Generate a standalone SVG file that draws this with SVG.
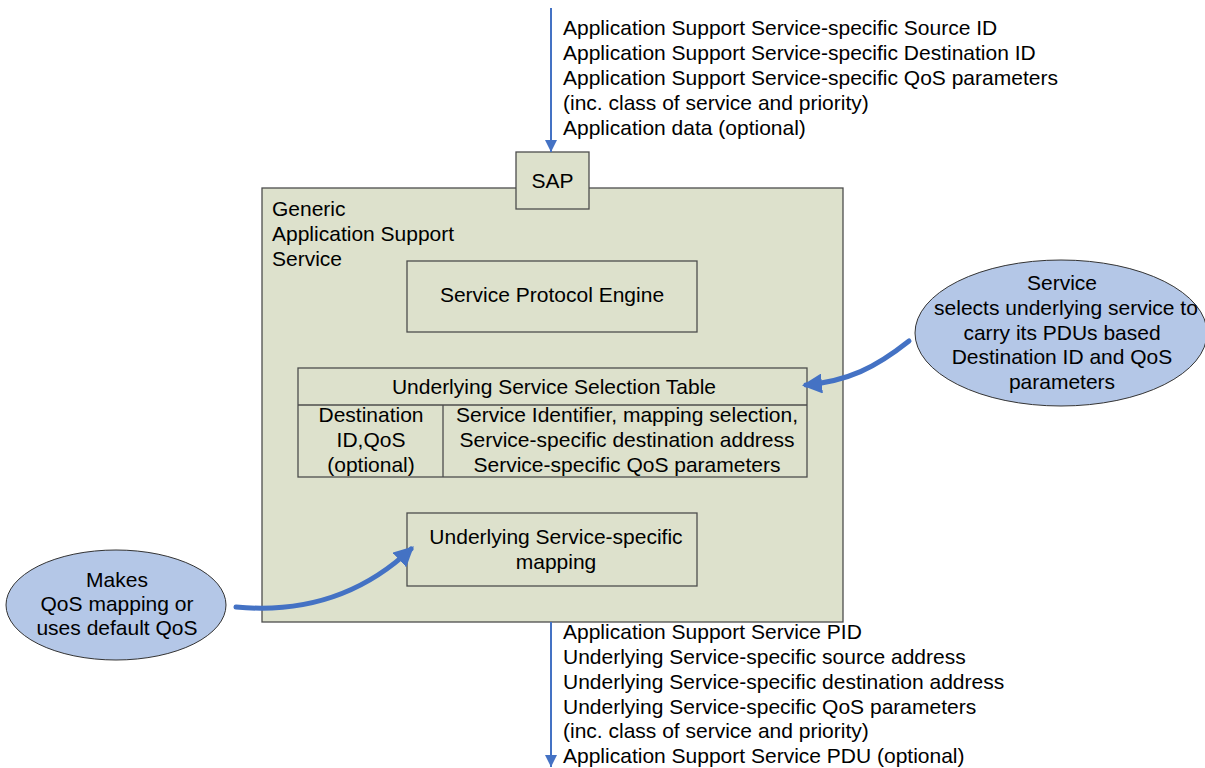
<svg xmlns="http://www.w3.org/2000/svg" width="1205" height="768" viewBox="0 0 1205 768">
<style>
text{font-family:"Liberation Sans",Arial,sans-serif;font-size:21px;fill:#000}
.c{text-anchor:middle}
.box{fill:#dde1cc;stroke:#4d4d4d;stroke-width:1.3}
.ell{fill:#b4c7e7;stroke:#333;stroke-width:1}
.thin{stroke:#4472c4;stroke-width:2;fill:none}
.thick{stroke:#4472c4;stroke-width:5;fill:none;stroke-linecap:round}
</style>
<defs>
<marker id="ah" viewBox="0 0 10 10" refX="10" refY="5" markerWidth="6" markerHeight="6" orient="auto" markerUnits="strokeWidth"><path d="M0,0 L10,5 L0,10 z" fill="#4472c4"/></marker>
<marker id="ah2" viewBox="0 0 10 10" refX="8" refY="5" markerWidth="4" markerHeight="4" orient="auto" markerUnits="strokeWidth"><path d="M0,0 L10,5 L0,10 z" fill="#4472c4"/></marker>
</defs>
<g id="main">
<rect class="box" x="262" y="188" width="581" height="434"/>
<text x="272" y="216">Generic</text>
<text x="272" y="241">Application Support</text>
<text x="272" y="266">Service</text>
</g>
<g id="sap">
<rect class="box" x="516" y="152" width="73" height="57"/>
<text class="c" x="552.500" y="188">SAP</text>
</g>
<g id="engine">
<rect class="box" x="407" y="261" width="290" height="71"/>
<text class="c" x="552" y="302">Service Protocol Engine</text>
</g>
<g id="table">
<rect class="box" x="298" y="368" width="509" height="109"/>
<line x1="298" y1="405" x2="807" y2="405" stroke="#4d4d4d" stroke-width="1.3"/>
<line x1="443" y1="405" x2="443" y2="477" stroke="#4d4d4d" stroke-width="1.3"/>
<text class="c" x="554" y="394">Underlying Service Selection Table</text>
<text class="c" x="371" y="422">Destination</text>
<text class="c" x="371" y="447">ID,QoS</text>
<text class="c" x="371" y="472">(optional)</text>
<text class="c" x="627" y="422">Service Identifier, mapping selection,</text>
<text class="c" x="627" y="447">Service-specific destination address</text>
<text class="c" x="627" y="472">Service-specific QoS parameters</text>
</g>
<g id="mapping">
<rect class="box" x="407" y="513" width="290" height="73"/>
<text class="c" x="556" y="544">Underlying Service-specific</text>
<text class="c" x="556" y="569">mapping</text>
</g>
<g id="note-left">
<ellipse class="ell" cx="116" cy="605" rx="110" ry="55"/>
<text class="c" x="117" y="587">Makes</text>
<text class="c" x="117" y="611">QoS mapping or</text>
<text class="c" x="117" y="635">uses default QoS</text>
</g>
<g id="note-right">
<ellipse class="ell" cx="1061" cy="333" rx="146" ry="73"/>
<text class="c" x="1062" y="290">Service</text>
<text class="c" x="1066" y="315">selects underlying service to</text>
<text class="c" x="1062" y="340">carry its PDUs based</text>
<text class="c" x="1062" y="364">Destination ID and QoS</text>
<text class="c" x="1062" y="389">parameters</text>
</g>
<g id="labels">
<text x="563" y="35">Application Support Service-specific Source ID</text>
<text x="563" y="60">Application Support Service-specific Destination ID</text>
<text x="563" y="85">Application Support Service-specific QoS parameters</text>
<text x="563" y="110">(inc. class of service and priority)</text>
<text x="563" y="135">Application data (optional)</text>
<text x="563" y="639">Application Support Service PID</text>
<text x="563" y="664">Underlying Service-specific source address</text>
<text x="563" y="689">Underlying Service-specific destination address</text>
<text x="563" y="714">Underlying Service-specific QoS parameters</text>
<text x="563" y="738">(inc. class of service and priority)</text>
<text x="563" y="763">Application Support Service PDU (optional)</text>
</g>
<g id="connectors">
<line class="thin" x1="551" y1="8" x2="551" y2="152" marker-end="url(#ah)"/>
<line class="thin" x1="551" y1="622" x2="551" y2="767" marker-end="url(#ah)"/>
<path class="thick" d="M236,607 C300,613 360,597 411,549" marker-end="url(#ah2)"/>
<path class="thick" d="M909,341 C875,368 848,381 806,385" marker-end="url(#ah2)"/>
</g>
</svg>
